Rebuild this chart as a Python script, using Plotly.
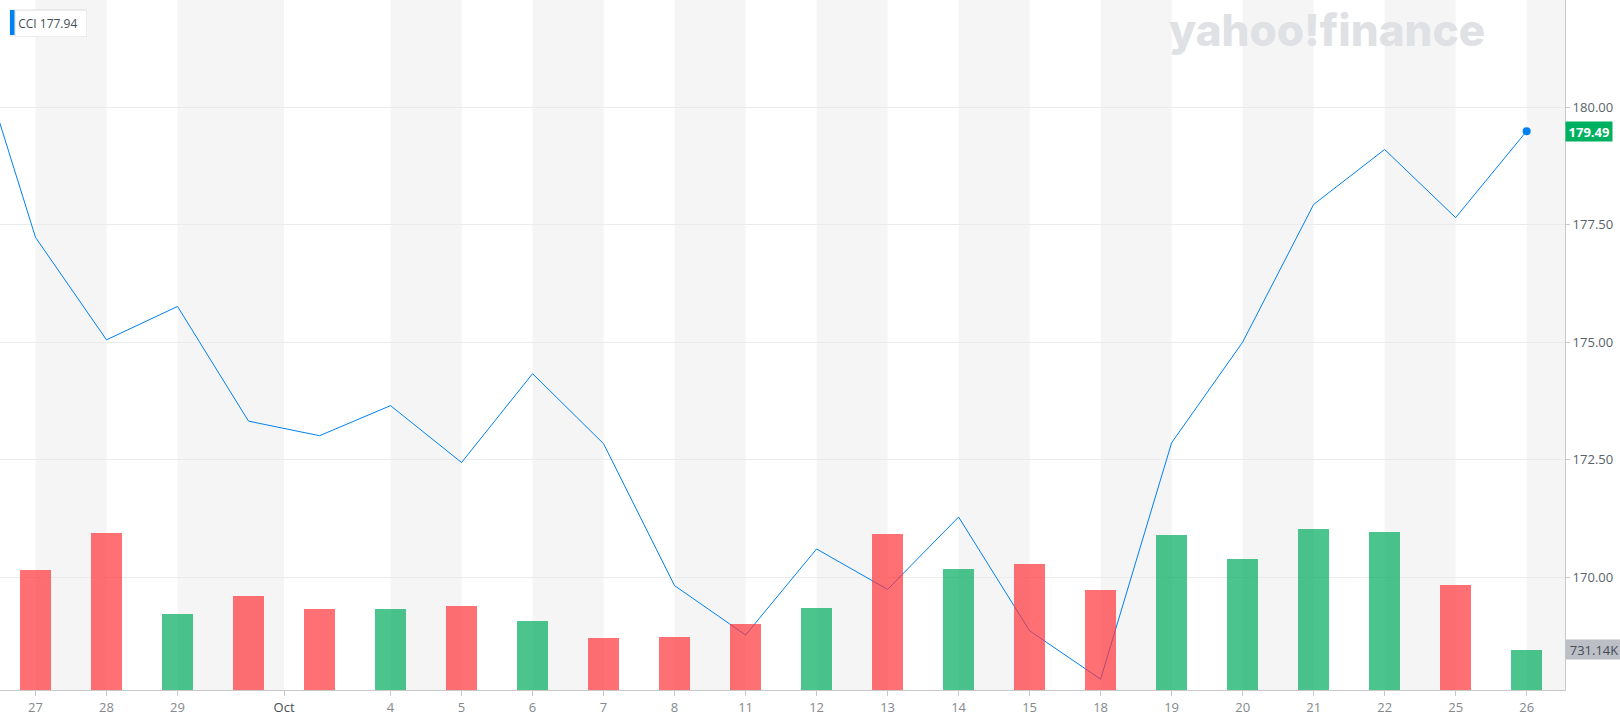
import plotly.graph_objects as go

# ---------------- data ----------------
dates = ["Sep 27", "Sep 28", "Sep 29", "Sep 30", "Oct 1", "Oct 4", "Oct 5", "Oct 6",
         "Oct 7", "Oct 8", "Oct 11", "Oct 12", "Oct 13", "Oct 14", "Oct 15", "Oct 18",
         "Oct 19", "Oct 20", "Oct 21", "Oct 22", "Oct 25", "Oct 26"]
close = [177.23, 175.05, 175.76, 173.32, 173.01, 173.65, 172.44, 174.33,
         172.84, 169.82, 168.77, 170.60, 169.74, 171.28, 168.86, 167.83,
         172.86, 175.00, 177.93, 179.10, 177.65, 179.49]
prev_close = 182.07          # Sep 24 close, only partly visible at the left edge
volume = [2177000, 2854000, 1384000, 1705000, 1475000, 1475000, 1529000, 1252000,
          949000, 967000, 1203000, 1493000, 2836000, 2195000, 2286000, 1820000,
          2817000, 2382000, 2926000, 2872000, 1910000, 731140]
tick_labels = ["27", "28", "29", "Oct", "4", "5", "6", "7", "8", "11", "12", "13",
               "14", "15", "18", "19", "20", "21", "22", "25", "26"]
price_ticks = [170.0, 172.5, 175.0, 177.5, 180.0]
symbol = "CCI"
legend_value = 177.94

# ---------------- derived ----------------
idx = list(range(len(dates)))
prevs = [prev_close] + close[:-1]
bar_colors = ["rgba(0,171,94,0.7)" if c >= p else "rgba(255,51,58,0.7)"
              for c, p in zip(close, prevs)]

oct_start = dates.index("Oct 1")
tick_pos = []
for lab in tick_labels:
    if lab == "Oct":
        tick_pos.append(oct_start - 0.5)
        continue
    for i, d in enumerate(dates):
        if d.split()[1] == lab and i not in tick_pos:
            tick_pos.append(i)
            break
ticktext = [('<span style="color:#464e56">%s</span>' % t) if t == "Oct" else t
            for t in tick_labels]

x_min, x_max = -0.5, 21.54
y_min, y_max = 167.60, 182.28
vol_top = volume[-1] / 40.3 * 690

fig = go.Figure()
fig.add_trace(go.Scatter(x=[-1] + idx, y=[prev_close] + close, mode="lines",
                         line=dict(color="#0081f2", width=1), yaxis="y",
                         hoverinfo="skip", showlegend=False))
fig.add_trace(go.Scatter(x=[idx[-1]], y=[close[-1]], mode="markers",
                         marker=dict(color="#0081f2", size=8), yaxis="y",
                         hoverinfo="skip", showlegend=False))
fig.add_trace(go.Bar(x=idx, y=volume, marker=dict(color=bar_colors, line=dict(width=0)),
                     width=0.437, yaxis="y2", hoverinfo="skip", showlegend=False))

# alternating background stripes between tick marks
shapes = []
bounds = tick_pos + [x_max]
for k in range(len(bounds) - 1):
    if k % 2 == 0:
        shapes.append(dict(type="rect", xref="x", yref="paper", x0=bounds[k], x1=bounds[k + 1],
                           y0=0, y1=1, fillcolor="#f5f5f5", line=dict(width=0), layer="below"))
PW, PH = 1565.0, 690.0
# legend box shadow + marker bar
shapes.append(dict(type="rect", xref="paper", yref="paper", x0=9 / PW, x1=86 / PW,
                   y0=1 - 37 / PH, y1=1 - 9 / PH, fillcolor="rgba(0,0,0,0.05)",
                   line=dict(width=0), layer="above"))
shapes.append(dict(type="rect", xref="paper", yref="paper", x0=10 / PW, x1=14.5 / PW,
                   y0=1 - 35 / PH, y1=1 - 10 / PH, fillcolor="#0081f2", line=dict(width=0),
                   layer="above"))

annotations = [
    dict(xref="paper", x=1, xanchor="left", yref="y", y=close[-1], yanchor="middle",
         text="<b>%.2f</b>" % close[-1], showarrow=False, bgcolor="#00b061",
         font=dict(family="Open Sans", size=13, color="white"), width=46, height=19,
         borderpad=0),
    dict(xref="paper", x=1, xanchor="left", yref="y2", y=volume[-1], yanchor="middle",
         text="%.2fK" % (volume[-1] / 1000), showarrow=False, bgcolor="#bcbfc6",
         font=dict(family="Open Sans", size=13, color="#464e56"), width=56, height=19,
         borderpad=0),
    dict(xref="paper", x=14.5 / PW, xanchor="left", yref="paper", y=1 - 10 / PH, yanchor="top",
         text="&#8202;%s %.2f" % (symbol, legend_value), showarrow=False, bgcolor="white",
         bordercolor="#ececec", borderwidth=1, width=68, height=23, align="left",
         font=dict(family="Open Sans", size=12, color="#464e56")),
    dict(xref="paper", x=1327 / PW, xanchor="center", yref="paper", y=1 - 30 / PH,
         yanchor="middle", text="yahoo!finance", showarrow=False,
         font=dict(family="Inter", size=44, weight=800, color="#e0e1e5")),
]

fig.update_layout(
    width=1620, height=725,
    margin=dict(l=0, r=55, t=0, b=35),
    paper_bgcolor="white", plot_bgcolor="white",
    bargap=0, showlegend=False,
    shapes=shapes, annotations=annotations,
    xaxis=dict(range=[x_min, x_max], tickmode="array", tickvals=tick_pos, ticktext=ticktext,
               showgrid=False, zeroline=False, showline=True, linecolor="#c8c8c8",
               linewidth=1, ticks="outside", ticklen=5, tickcolor="#c8c8c8",
               tickfont=dict(family="Open Sans", size=13, color="#85898e"), fixedrange=True),
    yaxis=dict(range=[y_min, y_max], side="right", tickmode="array", tickvals=price_ticks,
               ticktext=["%.2f" % v for v in price_ticks], showgrid=True,
               gridcolor="#ebebeb", gridwidth=1, zeroline=False, showline=True,
               linecolor="#c8c8c8", linewidth=1, ticks="outside", ticklen=4,
               tickcolor="#c8c8c8",
               tickfont=dict(family="Open Sans", size=13, color="#5b636a")),
    yaxis2=dict(range=[0, vol_top], overlaying="y", visible=False, showgrid=False),
)

fig.write_html("out.html", config={"displayModeBar": False},
               post_script="document.body.style.margin='0';document.body.style.overflow='hidden';")
